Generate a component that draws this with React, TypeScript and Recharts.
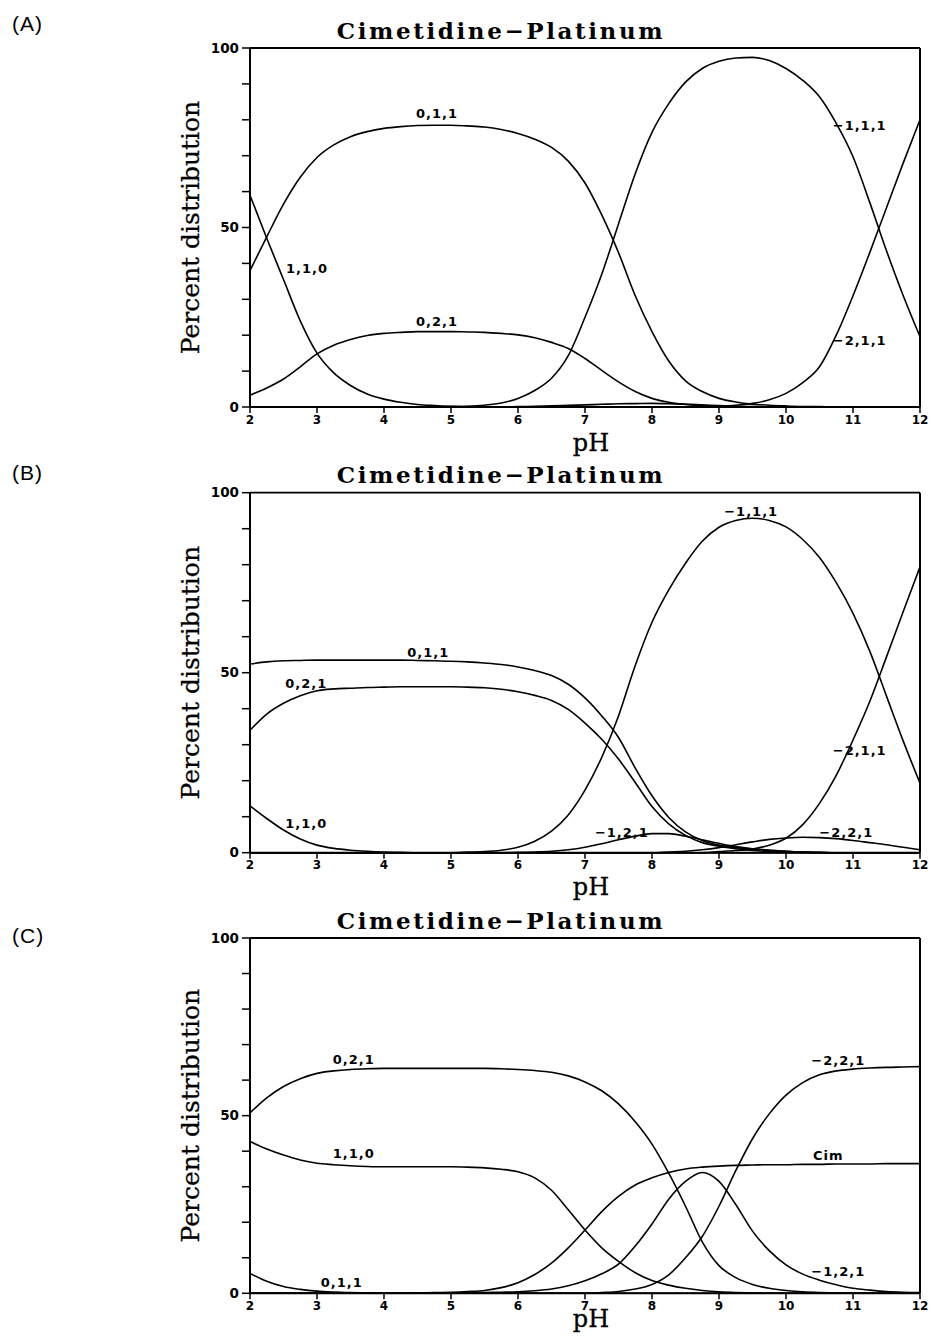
import { LineChart, Line, XAxis, YAxis, ReferenceLine, ReferenceDot } from 'recharts';

// pH grid shared by the three panels
const ph = [
  2, 2.25, 2.5, 2.75, 3, 3.25, 3.5, 3.75, 4, 4.25, 4.5, 4.75, 5, 5.25, 5.5, 5.75, 6, 6.25, 6.5, 6.75,
  7, 7.25, 7.5, 7.75, 8, 8.25, 8.5, 8.75, 9, 9.25, 9.5, 9.75, 10, 10.25, 10.5, 10.75, 11, 11.25, 11.5, 11.75, 12,
];

const phTicks = [2, 3, 4, 5, 6, 7, 8, 9, 10, 11, 12];
const pctTicks = [0, 10, 20, 30, 40, 50, 60, 70, 80, 90, 100];

// (A) percent distribution
const a110 = [59, 47, 35.5, 24, 15, 9.5, 6, 3.6, 2.2, 1.3, 0.7, 0.4, 0.2, 0.1, 0, 0, 0, 0, 0, 0, 0, 0, 0, 0, 0, 0, 0, 0, 0, 0, 0, 0, 0, 0, 0, 0, 0, 0, 0, 0, 0];
const a011 = [38, 47.4, 56.5, 64, 69.5, 73, 75.3, 76.7, 77.6, 78.1, 78.4, 78.5, 78.5, 78.3, 78, 77.3, 76.2, 74.6, 72.3, 68.5, 62.4, 53.5, 43, 31, 21, 12.8, 7.3, 4.3, 2.4, 1.4, 0.8, 0.5, 0.3, 0.15, 0.1, 0, 0, 0, 0, 0, 0];
const a021 = [3.3, 5.3, 7.8, 11.2, 14.8, 17.2, 18.8, 19.9, 20.5, 20.8, 21, 21, 21, 20.9, 20.8, 20.5, 20.1, 19.3, 18, 16.3, 13.5, 10.2, 7, 4.3, 2.4, 1.3, 0.7, 0.3, 0.1, 0, 0, 0, 0, 0, 0, 0, 0, 0, 0, 0, 0];
const aM111 = [0, 0, 0, 0, 0, 0, 0, 0, 0, 0, 0, 0, 0.1, 0.2, 0.5, 1.1, 2.4, 4.6, 8, 14.3, 25, 37, 51, 65, 76.5, 84.5, 90.5, 94.3, 96.3, 97.2, 97.4, 96.5, 94.3, 91, 86.4, 79, 69.7, 57, 43.5, 31, 19.6];
const aM211 = [0, 0, 0, 0, 0, 0, 0, 0, 0, 0, 0, 0, 0, 0, 0, 0, 0, 0, 0, 0, 0, 0, 0, 0, 0, 0, 0, 0, 0.2, 0.5, 1, 2, 3.8, 6.8, 11.2, 20, 31, 43, 55.5, 68, 80];
const aM121 = [0, 0, 0, 0, 0, 0, 0, 0, 0, 0, 0, 0, 0, 0, 0, 0, 0.1, 0.2, 0.3, 0.45, 0.6, 0.75, 0.9, 0.95, 1, 0.9, 0.8, 0.6, 0.4, 0.2, 0.1, 0, 0, 0, 0, 0, 0, 0, 0, 0, 0];

// (B)
const b011 = [52.4, 53, 53.3, 53.4, 53.5, 53.5, 53.5, 53.5, 53.5, 53.5, 53.4, 53.3, 53.2, 53, 52.7, 52.3, 51.6, 50.6, 49.2, 46.8, 43, 38, 32, 23.5, 15.8, 9.8, 5.8, 3.4, 2.1, 1.4, 1, 0.7, 0.4, 0.2, 0.1, 0, 0, 0, 0, 0, 0];
const b021 = [34, 38.5, 41.5, 43.6, 45, 45.5, 45.7, 45.9, 46, 46.1, 46.1, 46.1, 46.1, 46, 45.8, 45.4, 44.7, 43.7, 42.3, 39.8, 36, 31.5, 26, 19.5, 12.8, 8, 4.8, 2.8, 1.8, 1.1, 0.6, 0.35, 0.2, 0.1, 0, 0, 0, 0, 0, 0, 0];
const b110 = [13, 9.5, 6.3, 3.8, 2.1, 1.2, 0.7, 0.4, 0.2, 0.1, 0, 0, 0, 0, 0, 0, 0, 0, 0, 0, 0, 0, 0, 0, 0, 0, 0, 0, 0, 0, 0, 0, 0, 0, 0, 0, 0, 0, 0, 0, 0];
const bM111 = [0, 0, 0, 0, 0, 0, 0, 0, 0, 0, 0, 0, 0, 0.15, 0.3, 0.7, 1.5, 3.2, 6, 10.5, 17.4, 26.5, 38, 52, 64, 73, 80.4, 86.5, 90.4, 92.3, 92.9, 92.3, 90.5, 87, 82, 75, 66.5, 56, 43.5, 31, 19.3];
const bM211 = [0, 0, 0, 0, 0, 0, 0, 0, 0, 0, 0, 0, 0, 0, 0, 0, 0, 0, 0, 0, 0, 0, 0, 0, 0, 0, 0, 0, 0.3, 0.6, 1, 2.1, 4, 7.8, 13.7, 21.5, 31.3, 42, 54.4, 67, 79.4];
const bM121 = [0, 0, 0, 0, 0, 0, 0, 0, 0, 0, 0, 0, 0, 0, 0, 0, 0.1, 0.2, 0.4, 0.8, 1.5, 2.5, 3.6, 4.6, 5.3, 5.3, 4.6, 3.6, 2.6, 1.7, 1.1, 0.7, 0.4, 0.2, 0.1, 0, 0, 0, 0, 0, 0];
const bM221 = [0, 0, 0, 0, 0, 0, 0, 0, 0, 0, 0, 0, 0, 0, 0, 0, 0, 0, 0, 0, 0, 0, 0, 0, 0, 0.2, 0.4, 0.8, 1.4, 2.2, 3, 3.7, 4.1, 4.3, 4.2, 3.9, 3.4, 2.8, 2.2, 1.5, 0.8];

// (C)
const c021 = [50.8, 55, 58.2, 60.4, 61.9, 62.6, 63, 63.2, 63.3, 63.3, 63.3, 63.3, 63.3, 63.3, 63.3, 63.2, 63, 62.7, 62.2, 61.2, 59.5, 57, 53.3, 48.3, 42, 33.8, 24.5, 14.5, 7.8, 4.4, 2.5, 1.4, 0.8, 0.4, 0.2, 0.1, 0, 0, 0, 0, 0];
const c110 = [42.7, 40.6, 38.9, 37.5, 36.6, 36.2, 35.9, 35.7, 35.6, 35.6, 35.6, 35.6, 35.6, 35.5, 35.3, 34.9, 34.2, 32.5, 29, 23.5, 17.8, 12.8, 9, 5.8, 3.6, 2.3, 1.4, 0.8, 0.4, 0.2, 0.1, 0, 0, 0, 0, 0, 0, 0, 0, 0, 0];
const c011 = [5.6, 3.4, 1.9, 1.1, 0.6, 0.35, 0.2, 0.1, 0, 0, 0, 0, 0, 0, 0, 0, 0, 0, 0, 0, 0, 0, 0, 0, 0, 0, 0, 0, 0, 0, 0, 0, 0, 0, 0, 0, 0, 0, 0, 0, 0];
const cCim = [0, 0, 0, 0, 0, 0, 0, 0, 0, 0, 0.1, 0.2, 0.3, 0.5, 0.8, 1.6, 3, 5.3, 8.5, 12.8, 17.8, 23, 27.3, 30.5, 32.5, 34, 35, 35.5, 35.8, 36, 36.1, 36.2, 36.2, 36.3, 36.3, 36.4, 36.4, 36.4, 36.5, 36.5, 36.5];
const cM121 = [0, 0, 0, 0, 0, 0, 0, 0, 0, 0, 0, 0, 0.1, 0.15, 0.2, 0.3, 0.4, 0.7, 1.2, 2.1, 3.5, 5.5, 8.2, 13.3, 19.5, 26.5, 31.5, 34, 31.5, 25, 17.5, 12, 8, 5.4, 3.7, 2.4, 1.4, 0.9, 0.5, 0.3, 0.2];
const cM221 = [0, 0, 0, 0, 0, 0, 0, 0, 0, 0, 0, 0, 0, 0, 0, 0, 0, 0, 0, 0, 0, 0.2, 0.5, 1.2, 2.5, 5.2, 10, 16, 24.5, 34.5, 43.5, 50.5, 55.8, 59.3, 61.5, 62.6, 63.1, 63.4, 63.6, 63.7, 63.8];

// curve labels: [text, pH, percent]
const tagsA: [string, number, number][] = [
  ['0,1,1', 4.79, 81.9],
  ['1,1,0', 2.85, 38.7],
  ['0,2,1', 4.79, 23.8],
  ['\u22121,1,1', 11.1, 78.5],
  ['\u22122,1,1', 11.1, 18.7],
];
const tagsB: [string, number, number][] = [
  ['0,1,1', 4.66, 55.8],
  ['0,2,1', 2.84, 47],
  ['1,1,0', 2.84, 8.2],
  ['\u22121,1,1', 9.48, 94.7],
  ['\u22122,1,1', 11.1, 28.5],
  ['\u22121,2,1', 7.55, 5.6],
  ['\u22122,2,1', 10.9, 5.6],
];
const tagsC: [string, number, number][] = [
  ['0,2,1', 3.55, 65.9],
  ['1,1,0', 3.55, 39.4],
  ['0,1,1', 3.37, 3.1],
  ['\u22122,2,1', 10.78, 65.7],
  ['Cim', 10.63, 38.9],
  ['\u22121,2,1', 10.78, 6.3],
];

const TITLE = 'Cimetidine\u2212Platinum';
const serif = '"DejaVu Serif", serif';
const sans = '"DejaVu Sans", sans-serif';

type PanelProps = {
  letter: string;
  top: number;
  height: number;
  plotTop: number;
  plotBottom: number;
  titleY: number;
  letterY: number;
  phGap: number;
  series: number[][];
  tags: [string, number, number][];
};

function Panel(p: PanelProps) {
  const data = ph.map((x, i) => {
    const row: Record<string, number> = { ph: x };
    p.series.forEach((s, k) => (row['s' + k] = s[i]));
    return row;
  });
  const plotH = p.plotBottom - p.plotTop;

  const tagContent = (text: string) => (props: any) => {
    const vb = props.viewBox || {};
    const x = vb.x + (vb.width || 0) / 2;
    const y = vb.y + (vb.height || 0) / 2;
    return (
      <text x={x} y={y} dy="0.36em" textAnchor="middle" fill="#000" fontFamily={sans} fontWeight={700} fontSize={13} letterSpacing={1}>
        {text}
      </text>
    );
  };

  return (
    <div style={{ position: 'absolute', left: 0, top: p.top, width: 932, height: p.height }}>
      <LineChart
        width={932}
        height={p.height}
        data={data}
        margin={{ top: p.plotTop, right: 12, bottom: p.height - 30 - p.plotBottom, left: 0 }}
      >
        <XAxis
          dataKey="ph"
          type="number"
          domain={[2, 12]}
          ticks={phTicks}
          interval={0}
          height={30}
          tickSize={6}
          tickMargin={2}
          axisLine={{ stroke: '#000', strokeWidth: 2 }}
          tickLine={{ stroke: '#000', strokeWidth: 1.5 }}
          tick={{ fill: '#000', fontSize: 12, fontWeight: 700, fontFamily: sans }}
          label={{
            content: (props: any) => {
              const vb = props.viewBox;
              return (
                <text x={vb.x + vb.width / 2 + 6} y={vb.y + p.phGap} textAnchor="middle" fill="#000" fontFamily={serif} fontSize={24} stroke="#000" strokeWidth={0.3}>
                  pH
                </text>
              );
            },
          }}
        />
        <YAxis
          type="number"
          domain={[0, 100]}
          ticks={pctTicks}
          interval={0}
          width={250}
          tickSize={8}
          tickMargin={3}
          tickFormatter={(v: number) => (v % 50 === 0 ? String(v) : '')}
          axisLine={{ stroke: '#000', strokeWidth: 2 }}
          tickLine={{ stroke: '#000', strokeWidth: 1.5 }}
          tick={{ fill: '#000', fontSize: 13.5, fontWeight: 700, fontFamily: sans }}
          label={{
            content: () => {
              const cx = 199;
              const cy = p.plotTop + plotH / 2;
              return (
                <text x={cx} y={cy} transform={`rotate(-90 ${cx} ${cy})`} textAnchor="middle" fill="#000" fontFamily={serif} fontSize={25} stroke="#000" strokeWidth={0.3}>
                  Percent distribution
                </text>
              );
            },
          }}
        />
        <ReferenceLine y={100} stroke="#000" strokeWidth={1.8} />
        <ReferenceLine x={12} stroke="#000" strokeWidth={2} />
        {p.series.map((_, k) => (
          <Line
            key={k}
            dataKey={'s' + k}
            type="monotone"
            stroke="#000"
            strokeWidth={1.6}
            dot={false}
            activeDot={false}
            isAnimationActive={false}
          />
        ))}
        {p.tags.map(([text, x, y]) => (
          <ReferenceDot key={text} x={x} y={y} r={1} fill="none" stroke="none" label={{ content: tagContent(text) }} />
        ))}
      </LineChart>
      <svg width={932} height={60} style={{ position: 'absolute', left: 0, top: 0, pointerEvents: 'none' }}>
        <text x={12} y={p.letterY} fontFamily='"Liberation Sans", Arial, sans-serif' fontSize={21} letterSpacing={1} fill="#000">
          {p.letter}
        </text>
        <text x={501} y={p.titleY} textAnchor="middle" fontFamily={serif} fontWeight={700} fontSize={23} letterSpacing={2.6} fill="#000">
          {TITLE}
        </text>
      </svg>
    </div>
  );
}

export default function App() {
  return (
    <div style={{ position: 'absolute', left: 0, top: 0, width: 932, height: 1336, background: '#fff' }}>
      <Panel
        letter="(A)"
        top={0}
        height={460}
        plotTop={48}
        plotBottom={407}
        titleY={39}
        letterY={31}
        phGap={44}
        series={[a110, a011, a021, aM111, aM211, aM121]}
        tags={tagsA}
      />
      <Panel
        letter="(B)"
        top={445}
        height={460}
        plotTop={47.7}
        plotBottom={407.7}
        titleY={38}
        letterY={35}
        phGap={42}
        series={[b011, b021, b110, bM111, bM211, bM121, bM221]}
        tags={tagsB}
      />
      <Panel
        letter="(C)"
        top={890}
        height={446}
        plotTop={48}
        plotBottom={403.3}
        titleY={39}
        letterY={53}
        phGap={34}
        series={[c021, c110, c011, cCim, cM121, cM221]}
        tags={tagsC}
      />
    </div>
  );
}
